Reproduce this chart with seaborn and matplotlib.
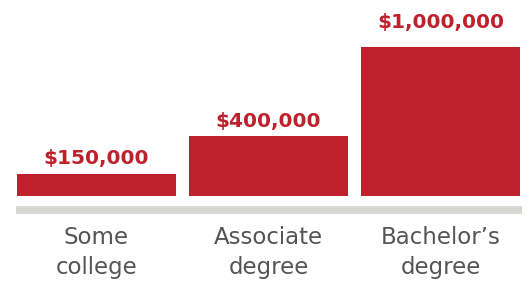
import matplotlib
matplotlib.use("Agg")
import matplotlib.pyplot as plt
import seaborn as sb
import pandas as pd

# данные
categories = ["Some\ncollege", "Associate\ndegree", "Bachelor\u2019s\ndegree"]
values = [150000, 400000, 1000000]
value_labels = ["$150,000", "$400,000", "$1,000,000"]

red = "#BE202C"
grey_line = "#D6D6D1"
grey_text = "#555555"

sb.set_style("white")
plt.rcParams["font.family"] = ["DejaVu Sans"]

df = pd.DataFrame({"cat": categories, "value": values})

fig = plt.figure(figsize=(5.3, 2.86), dpi=100)
# оси в пикселях: x 16..522, низ столбцов на y=196
ax = fig.add_axes([16 / 530, (286 - 196) / 286, 506 / 530, 196 / 286])

sb.barplot(data=df, x="cat", y="value", color=red, saturation=1,
           width=0.925, linewidth=0, ax=ax)

ax.set_xlim(-0.468, 2.474)
ax.set_ylim(0, 1.315e6)

# подписи значений над столбцами
label_pad = [7, 7, 14]
for i, (v, lab) in enumerate(zip(values, value_labels)):
    ax.annotate(lab, (i, v), xytext=(0, label_pad[i]), textcoords="offset points",
                ha="center", va="baseline", color=red, fontsize=14.5,
                fontweight="bold")

for s in ["top", "left", "right"]:
    ax.spines[s].set_visible(False)
ax.spines["bottom"].set_position(("outward", 10.4))
ax.spines["bottom"].set_color(grey_line)
ax.spines["bottom"].set_linewidth(5.6)
ax.spines["bottom"].set_capstyle("butt")

ax.set_yticks([])
ax.tick_params(axis="x", length=0, pad=11, labelsize=16.5, labelcolor=grey_text)
ax.set_xlabel("")
ax.set_ylabel("")
for t in ax.get_xticklabels():
    t.set_linespacing(1.4)

fig.savefig("out.png", dpi=100)
